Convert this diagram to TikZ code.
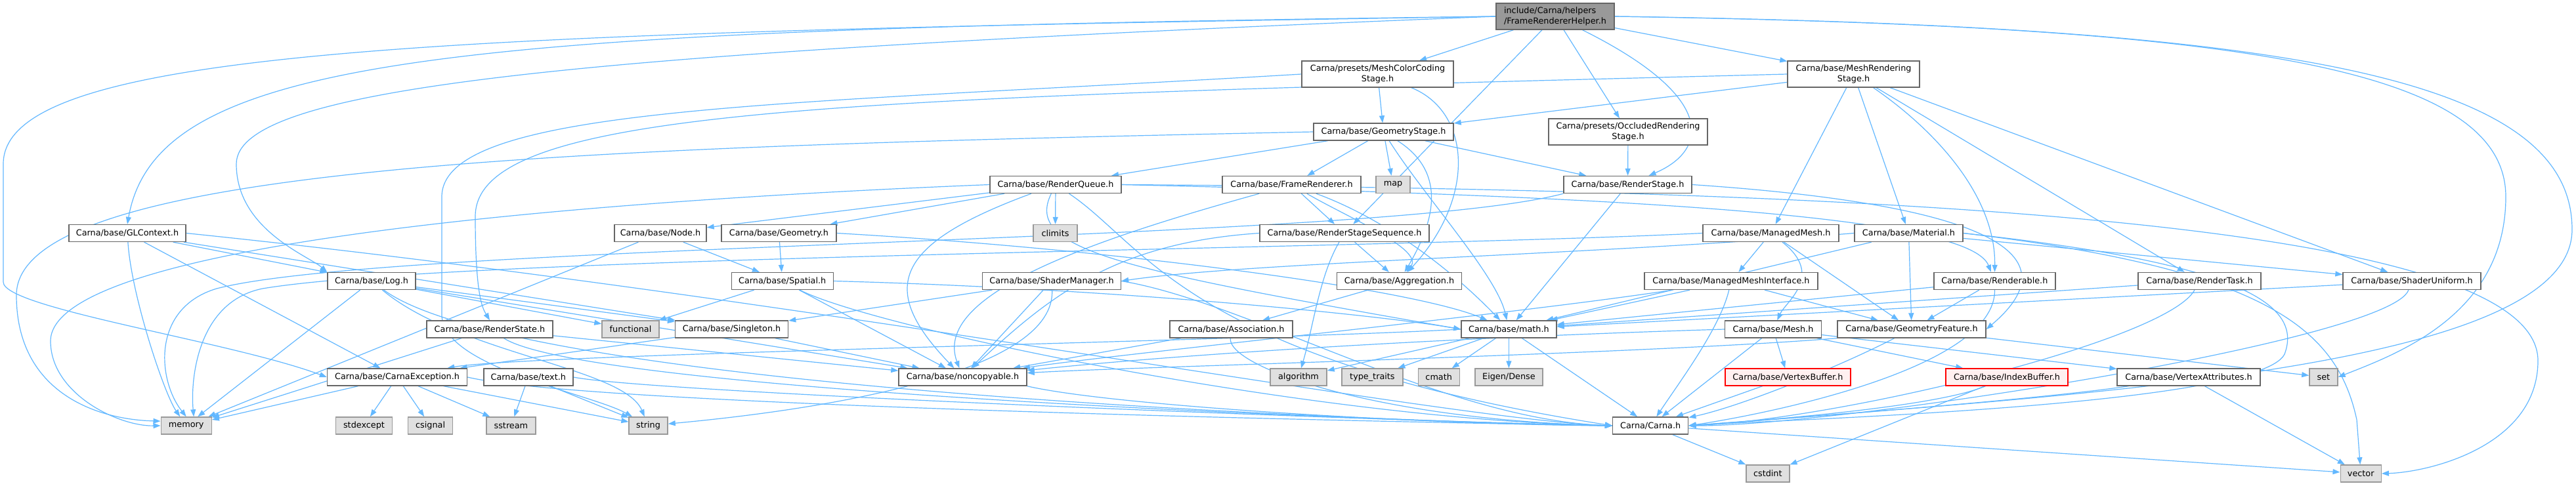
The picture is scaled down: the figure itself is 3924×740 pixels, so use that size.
\documentclass[tikz,border=0pt]{standalone}
\usepackage{fontspec}
\setmainfont{DejaVu Sans}
\usetikzlibrary{arrows.meta,backgrounds}
\definecolor{edgec}{HTML}{63B8FF}
\definecolor{boxline}{HTML}{666666}
\definecolor{extfill}{HTML}{E0E0E0}
\definecolor{extline}{HTML}{999999}
\definecolor{rootfill}{HTML}{999999}
\definecolor{redline}{HTML}{FF0000}
\definecolor{redfill}{HTML}{FFF0F0}
\tikzset{
  hdr/.style={draw=boxline, fill=white, line width=1.4pt, inner sep=0pt, align=center,
    font=\fontsize{12.8}{16.7}\selectfont, minimum height=26},
  hdrtwo/.style={hdr, minimum height=40},
  ext/.style={hdr, draw=extline, fill=extfill},
  redbox/.style={hdr, draw=redline, fill=redfill},
  rootbox/.style={hdr, fill=rootfill, minimum height=40, align=left},
  dep/.style={draw=edgec, line width=1.2pt, -{Triangle[length=11pt,width=8pt]}}
}
\begin{document}
\begin{tikzpicture}[x=1pt,y=-1pt]
\useasboundingbox (0,0) rectangle (3924,740);
% row 0
\node[rootbox, minimum width=180] (R) at (2369,25) {include/Carna/helpers\\/FrameRendererHelper.h};
% row 1
\node[hdrtwo, minimum width=231] (MCC) at (2098.5,113) {Carna/presets/MeshColorCoding\\Stage.h};
\node[hdrtwo, minimum width=201] (MRS) at (2823.5,113) {Carna/base/MeshRendering\\Stage.h};
% row 2
\node[hdr, minimum width=213] (GS) at (2107.5,201) {Carna/base/GeometryStage.h};
\node[hdrtwo, minimum width=242] (ORS) at (2480,201) {Carna/presets/OccludedRendering\\Stage.h};
% row 3
\node[hdr, minimum width=200] (RQ) at (1608,281.5) {Carna/base/RenderQueue.h};
\node[hdr, minimum width=211] (FR) at (1967.5,281.5) {Carna/base/FrameRenderer.h};
\node[ext, minimum width=52] (map) at (2122,281.5) {map};
\node[hdr, minimum width=195] (RS) at (2479.5,281.5) {Carna/base/RenderStage.h};
% row 4
\node[hdr, minimum width=178] (GLC) at (194,355.5) {Carna/base/GLContext.h};
\node[hdr, minimum width=140] (Node) at (1006,355.5) {Carna/base/Node.h};
\node[hdr, minimum width=175] (Geo) at (1186.5,355.5) {Carna/base/Geometry.h};
\node[ext, minimum width=67] (climits) at (1607.5,355.5) {climits};
\node[hdr, minimum width=258] (RSS) at (2048,355.5) {Carna/base/RenderStageSequence.h};
\node[hdr, minimum width=207] (MM) at (2697.5,355.5) {Carna/base/ManagedMesh.h};
\node[hdr, minimum width=165] (Mat) at (2907.5,355.5) {Carna/base/Material.h};
% row 5
\node[hdr, minimum width=134] (Log) at (566,428.5) {Carna/base/Log.h};
\node[hdr, minimum width=155] (Spa) at (1191.7,428.5) {Carna/base/Spatial.h};
\node[hdr, minimum width=211] (SM) at (1602,428.5) {Carna/base/ShaderManager.h};
\node[hdr, minimum width=190] (Agg) at (2131.5,428.5) {Carna/base/Aggregation.h};
\node[hdr, minimum width=264] (MMI) at (2637,428.5) {Carna/base/ManagedMeshInterface.h};
\node[hdr, minimum width=185] (Rend) at (3038.3,428.5) {Carna/base/Renderable.h};
\node[hdr, minimum width=187] (RT) at (3350.5,428.5) {Carna/base/RenderTask.h};
\node[hdr, minimum width=210] (SU) at (3674,428.5) {Carna/base/ShaderUniform.h};
% row 6
\node[hdr, minimum width=192] (RSt) at (746,502) {Carna/base/RenderState.h};
\node[ext, minimum width=87] (func) at (960.5,502) {functional};
\node[hdr, minimum width=172] (Sing) at (1114.6,502) {Carna/base/Singleton.h};
\node[hdr, minimum width=187] (Assoc) at (1875.5,502) {Carna/base/Association.h};
\node[hdr, minimum width=145] (math) at (2298.4,502) {Carna/base/math.h};
\node[hdr, minimum width=147] (Mesh) at (2701,502) {Carna/base/Mesh.h};
\node[hdr, minimum width=226] (GF) at (2912,502) {Carna/base/GeometryFeature.h};
% row 7
\node[hdr, minimum width=213] (CE) at (605,575) {Carna/base/CarnaException.h};
\node[hdr, minimum width=136] (text) at (804.8,575) {Carna/base/text.h};
\node[hdr, minimum width=195] (nonc) at (1466.5,575) {Carna/base/noncopyable.h};
\node[ext, minimum width=86] (algo) at (1978,575) {algorithm};
\node[ext, minimum width=93] (tt) at (2090.4,575) {type\_traits};
\node[ext, minimum width=63] (cmath) at (2191.7,575) {cmath};
\node[ext, minimum width=103] (eigen) at (2298.4,575) {Eigen/Dense};
\node[redbox, minimum width=191] (VB) at (2723.4,575) {Carna/base/VertexBuffer.h};
\node[redbox, minimum width=186] (IB) at (3057,575) {Carna/base/IndexBuffer.h};
\node[hdr, minimum width=218] (VA) at (3334,575) {Carna/base/VertexAttributes.h};
\node[ext, minimum width=43] (set) at (3539.4,575) {set};
% row 8
\node[ext, minimum width=77] (memory) at (283.7,649) {memory};
\node[ext, minimum width=86] (stdexcept) at (554.5,649) {stdexcept};
\node[ext, minimum width=68] (csignal) at (655.6,649) {csignal};
\node[ext, minimum width=75] (sstream) at (778.4,649) {sstream};
\node[ext, minimum width=59] (string) at (987.6,649) {string};
\node[hdr, minimum width=115] (CH) at (2514.2,649) {Carna/Carna.h};
% row 9
\node[ext, minimum width=66] (cstdint) at (2692.8,722) {cstdint};
\node[ext, minimum width=62] (vector) at (3596.2,722) {vector};

\begin{scope}[on background layer]
\fill[white] (0,0) rectangle (3924,740);
% ---- edges from root
\draw[dep] (R) -- (MCC);
\draw[dep] (R) -- (MRS);
\draw[dep] (R) -- (ORS);
\draw[dep] (R) -- (RSS);
\draw[dep] (R) .. controls (2620,150) and (2600,230) .. (RS);
\draw[dep] (R.west) .. controls (700,45) and (240,80) .. (GLC.north);
\draw[dep] (R.west) .. controls (700,50) and (5,70) .. (5,250) -- (5,430) .. controls (5,470) and (350,520) .. (CE.west);
\draw[dep] (R.west) .. controls (900,80) and (360,130) .. (360,250) .. controls (360,350) and (470,390) .. (Log.north west);
\draw[dep] (R.east) .. controls (3400,40) and (3817,100) .. (3817,300) .. controls (3817,480) and (3650,540) .. (set.east);
\draw[dep] (R.east) .. controls (3500,40) and (3918,120) .. (3918,350) .. controls (3918,560) and (3200,600) .. (CH.east);
% ---- MCC
\draw[dep] (MCC) -- (GS);
\draw[dep] (MCC) .. controls (2240,170) and (2250,300) .. (Agg);
\draw[dep] (MCC.west) .. controls (1200,160) and (673,160) .. (673,300) -- (673,480) .. controls (673,560) and (900,600) .. (string);
% ---- MRS
\draw[dep] (MRS) -- (GS);
\draw[dep] (MRS) -- (MM);
\draw[dep] (MRS) -- (Mat);
\draw[dep] (MRS) .. controls (2950,200) and (3040,300) .. (Rend);
\draw[dep] (MRS) -- (RT);
\draw[dep] (MRS) -- (SU);
\draw[dep] (MRS.west) .. controls (1300,150) and (724,160) .. (724,330) .. controls (724,450) and (735,470) .. (RSt.north);
% ---- ORS
\draw[dep] (ORS) -- (RS);
% ---- GS
\draw[dep] (GS) -- (RQ);
\draw[dep] (GS) -- (FR);
\draw[dep] (GS) -- (map);
\draw[dep] (GS) .. controls (2170,300) and (2280,420) .. (math);
\draw[dep] (GS) .. controls (2200,260) and (2190,330) .. (Agg);
\draw[dep] (GS) -- (RS);
\draw[dep] (GS.west) .. controls (900,224) and (25,250) .. (25,450) .. controls (25,600) and (150,640) .. (memory.170);
% ---- RS
\draw[dep] (RS) -- (math);
\draw[dep] (RS.south west) .. controls (2100,370) and (600,370) .. (330,440) .. controls (230,470) and (240,580) .. (memory.north);
\draw[dep] (RS.east) .. controls (3000,310) and (3170,380) .. (GF.east);
% ---- RQ
\draw[dep] (RQ) -- (Node);
\draw[dep] (RQ) -- (Geo);
\draw[dep] (RQ) -- (climits);
\draw[dep] (RQ.west) .. controls (800,310) and (77,380) .. (77,520) .. controls (77,600) and (180,650) .. (memory.west);
\draw[dep] (RQ) .. controls (1360,373) and (1337,440) .. (nonc);
\draw[dep] (RQ) .. controls (1560,380) and (1700,410) .. (math.west);
\draw[dep] (RQ) .. controls (1745,373) and (1809,547) .. (CH.west);
\draw[dep] (RQ.east) .. controls (2500,300) and (3000,330) .. (Rend);
\draw[dep] (RQ.east) .. controls (3000,290) and (3866,350) .. (3866,550) .. controls (3866,680) and (3700,720) .. (vector.east);
% ---- FR
\draw[dep] (FR) -- (RSS);
\draw[dep] (FR) .. controls (1656,368) and (1420,450) .. (nonc);
\draw[dep] (FR) .. controls (2100,330) and (2200,400) .. (math);
\draw[dep] (FR) .. controls (2050,330) and (2170,380) .. (Agg);
% ---- RSS
\draw[dep] (RSS) -- (Agg);
\draw[dep] (RSS) .. controls (2010,420) and (2000,500) .. (algo);
\draw[dep] (RSS.west) .. controls (1700,370) and (1600,450) .. (nonc);
% ---- GLC
\draw[dep] (GLC.east) .. controls (1200,450) and (2200,640) .. (CH.west);
\draw[dep] (GLC) -- (Sing);
\draw[dep] (GLC) .. controls (200,450) and (250,600) .. (memory);
\draw[dep] (GLC) -- (CE);
\draw[dep] (GLC) -- (Log);
% ---- Log
\draw[dep] (Log) .. controls (800,600) and (2200,645) .. (CH.west);
\draw[dep] (Log) -- (nonc);
\draw[dep] (Log) -- (Sing);
\draw[dep] (Log) -- (memory);
\draw[dep] (Log) .. controls (700,540) and (950,560) .. (string);
\draw[dep] (Log) -- (func);
% ---- Node, Geometry, Spatial
\draw[dep] (Node) -- (Spa);
\draw[dep] (Node) -- (memory);
\draw[dep] (Geo) -- (Spa);
\draw[dep] (Geo.east) .. controls (1700,380) and (2150,440) .. (math);
\draw[dep] (Spa) .. controls (1331,500) and (2000,640) .. (CH.west);
\draw[dep] (Spa) -- (nonc);
\draw[dep] (Spa.east) .. controls (1700,440) and (2100,480) .. (math.west);
\draw[dep] (Spa) -- (func);
% ---- ShaderManager
\draw[dep] (SM) -- (Sing);
\draw[dep] (SM) -- (nonc);
\draw[dep] (SM) .. controls (1608,560) and (1300,620) .. (string);
\draw[dep] (SM.east) .. controls (1900,460) and (2200,640) .. (CH.west);
% ---- Aggregation / Association
\draw[dep] (Agg) -- (Assoc);
\draw[dep] (Assoc) -- (nonc);
\draw[dep] (Assoc) .. controls (1870,560) and (2100,640) .. (CH.west);
% ---- ManagedMesh etc.
\draw[dep] (MM) -- (MMI);
\draw[dep] (MM) .. controls (2780,420) and (2720,460) .. (Mesh);
\draw[dep] (MM) -- (GF);
\draw[dep] (MM.west) .. controls (2100,380) and (700,390) .. (400,440) .. controls (300,460) and (290,580) .. (memory.50);
\draw[dep] (MMI) -- (GF);
\draw[dep] (MMI) -- (math);
\draw[dep] (MMI) .. controls (2300,480) and (1700,540) .. (nonc);
\draw[dep] (MMI) .. controls (2620,500) and (2560,580) .. (CH);
\draw[dep] (Mat) -- (GF);
\draw[dep] (Mat) -- (SU);
\draw[dep] (Mat.west) .. controls (2400,390) and (1900,400) .. (SM.east);
\draw[dep] (Mat) -- (math);
\draw[dep] (Mat.east) .. controls (3400,400) and (3510,460) .. (3480,540) .. controls (3440,620) and (2700,640) .. (CH.east);
\draw[dep] (Mat.east) .. controls (3450,410) and (3560,500) .. (3590,640) -- (vector);
\draw[dep] (Rend) -- (GF);
\draw[dep] (Rend) -- (math);
\draw[dep] (Rend) .. controls (3040,560) and (2700,630) .. (CH.east);
\draw[dep] (RT) -- (math);
\draw[dep] (RT) .. controls (3300,520) and (2800,640) .. (CH.east);
\draw[dep] (SU) .. controls (3640,520) and (2800,650) .. (CH.east);
\draw[dep] (SU) -- (math);
% ---- row 6
\draw[dep] (Sing) -- (nonc);
\draw[dep] (Sing) -- (CE);
\draw[dep] (RSt) .. controls (900,600) and (2200,645) .. (CH.west);
\draw[dep] (RSt) -- (nonc);
\draw[dep] (RSt) -- (memory);
\draw[dep] (math) -- (CH);
\draw[dep] (math.west) .. controls (1900,520) and (800,540) .. (CE);
\draw[dep] (math) -- (algo);
\draw[dep] (math) -- (tt);
\draw[dep] (math) -- (cmath);
\draw[dep] (math) -- (eigen);
\draw[dep] (Mesh) -- (VB);
\draw[dep] (Mesh) -- (IB);
\draw[dep] (Mesh) -- (VA);
\draw[dep] (Mesh) -- (CH);
\draw[dep] (Mesh.west) .. controls (2200,515) and (1800,540) .. (nonc);
\draw[dep] (GF) -- (set);
\draw[dep] (GF) .. controls (2800,560) and (2650,620) .. (CH);
\draw[dep] (GF.south west) .. controls (2500,540) and (1700,560) .. (nonc);
% ---- row 7
\draw[dep] (CE.east) .. controls (900,620) and (2200,645) .. (CH.west);
\draw[dep] (CE) -- (memory);
\draw[dep] (CE) -- (stdexcept);
\draw[dep] (CE) -- (csignal);
\draw[dep] (CE) -- (sstream);
\draw[dep] (CE) -- (string);
\draw[dep] (text.east) .. controls (1000,600) and (2200,645) .. (CH.west);
\draw[dep] (text) -- (sstream);
\draw[dep] (text) -- (string);
\draw[dep] (nonc.south east) .. controls (1700,620) and (2200,648) .. (CH.west);
\draw[dep] (VB) -- (CH);
\draw[dep] (IB) .. controls (2950,620) and (2700,640) .. (CH.east);
\draw[dep] (IB) -- (cstdint);
\draw[dep] (VA) .. controls (3100,610) and (2700,640) .. (CH.east);
\draw[dep] (VA) -- (vector);
% ---- Carna.h
\draw[dep] (CH) -- (cstdint);
\draw[dep] (CH) -- (vector);
\end{scope}
\end{tikzpicture}
\end{document}
